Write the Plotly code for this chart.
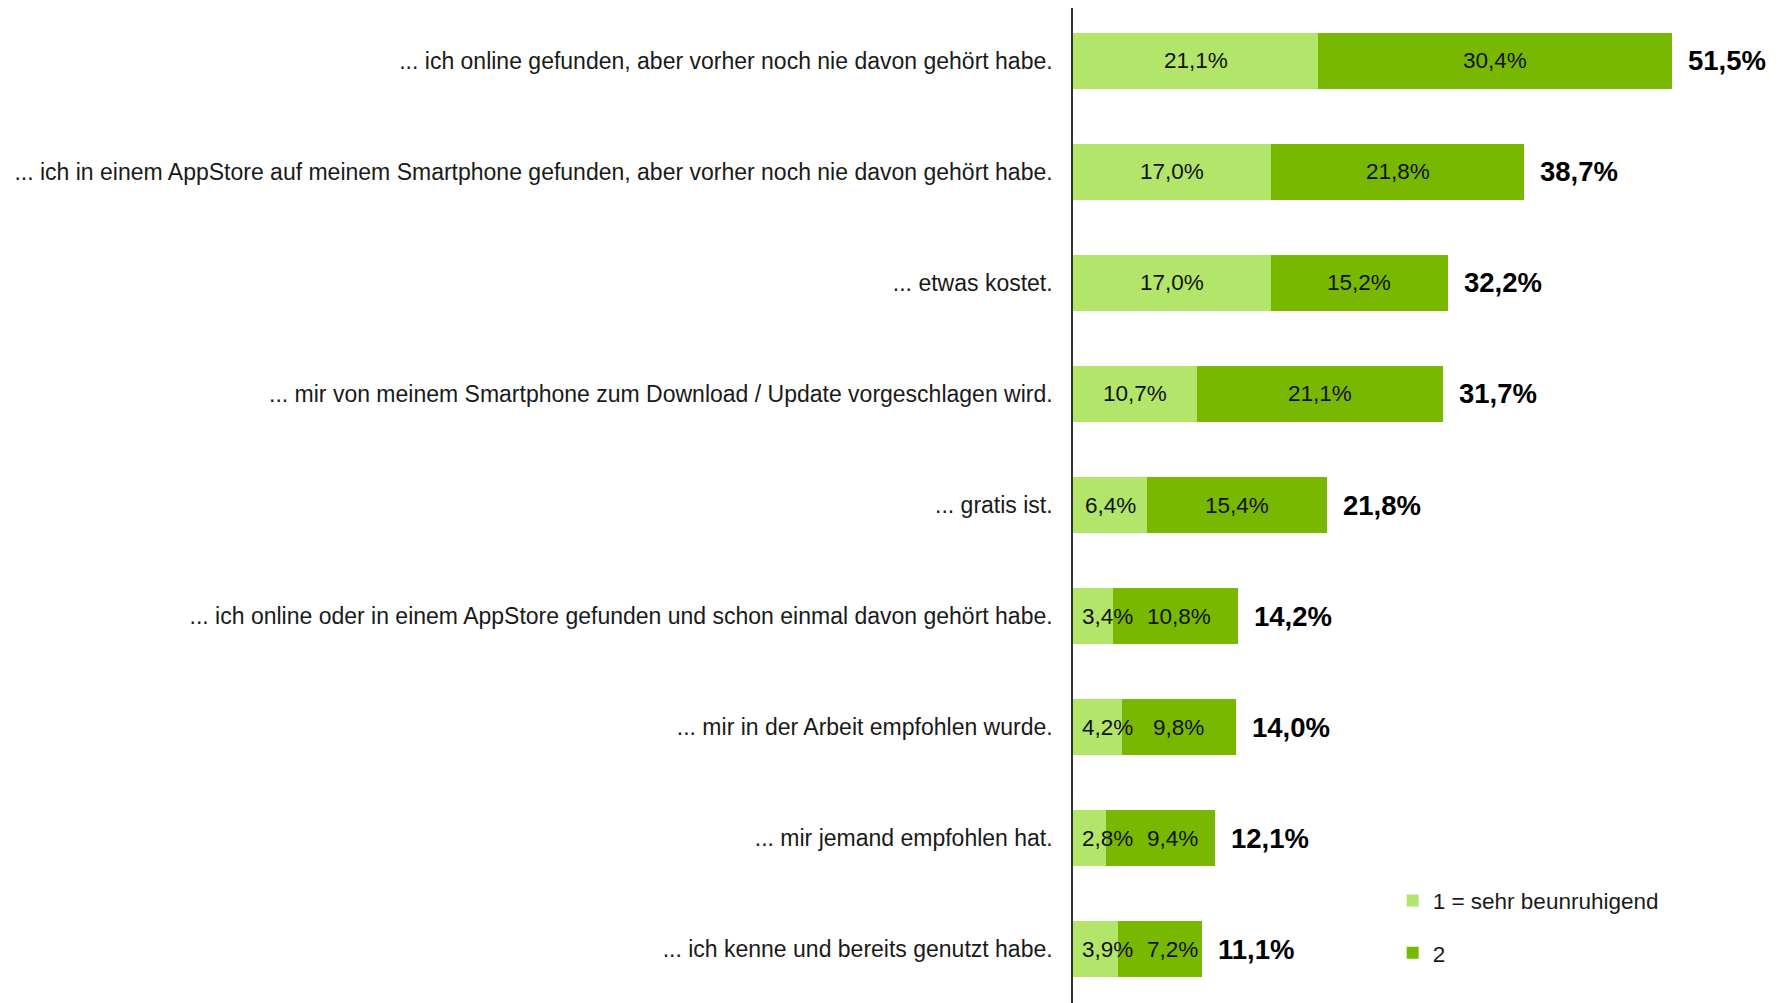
import plotly.graph_objects as go

categories = [
    "... ich online gefunden, aber vorher noch nie davon gehört habe.",
    "... ich in einem AppStore auf meinem Smartphone gefunden, aber vorher noch nie davon gehört habe.",
    "... etwas kostet.",
    "... mir von meinem Smartphone zum Download / Update vorgeschlagen wird.",
    "... gratis ist.",
    "... ich online oder in einem AppStore gefunden und schon einmal davon gehört habe.",
    "... mir in der Arbeit empfohlen wurde.",
    "... mir jemand empfohlen hat.",
    "... ich kenne und bereits genutzt habe.",
]
series1_name = "1 = sehr beunruhigend"
series2_name = "2"
series1 = [21.1, 17.0, 17.0, 10.7, 6.4, 3.4, 4.2, 2.8, 3.9]
series2 = [30.4, 21.8, 15.2, 21.1, 15.4, 10.8, 9.8, 9.4, 7.2]
totals = [51.5, 38.7, 32.2, 31.7, 21.8, 14.2, 14.0, 12.1, 11.1]

LIGHT = "#b2e56a"
DARK = "#79b800"
FONT = "Liberation Sans, Arial, sans-serif"
SEG_SIZE = 22.5
X_MAX = 60
PLOT_W = 1775 - 1065 - 12
PX_PER_UNIT = PLOT_W / X_MAX


def fmt(v):
    return f"{v:.1f}".replace(".", ",") + "%"


def text_width_px(s, size):
    w = {",": 0.278, "%": 0.889}
    return sum(w.get(c, 0.556) for c in s) * size


fig = go.Figure()
fig.add_trace(go.Bar(
    y=categories, x=series1, orientation="h", name=series1_name,
    marker=dict(color=LIGHT, line=dict(width=0)), legendgroup="a",
    textposition="none", hoverinfo="x+y",
))
fig.add_trace(go.Bar(
    y=categories, x=series2, orientation="h", name=series2_name,
    marker=dict(color=DARK, line=dict(width=0)), legendgroup="b",
    textposition="none", hoverinfo="x+y",
))

annotations = []
for cat, a, b, t in zip(categories, series1, series2, totals):
    seg_font = dict(family=FONT, size=SEG_SIZE, color="#111111")
    la, lb = fmt(a), fmt(b)
    wa, wb = text_width_px(la, SEG_SIZE), text_width_px(lb, SEG_SIZE)
    # light segment label: keep it inside the plot when the segment is narrow
    if a * PX_PER_UNIT < wa + 10:
        light_right = (7 + wa) / PX_PER_UNIT
        annotations.append(dict(x=0, y=cat, xref="x", yref="y", text=la,
                                showarrow=False, xanchor="left", yanchor="middle", xshift=7,
                                font=seg_font))
    else:
        light_right = a / 2 + wa / 2 / PX_PER_UNIT
        annotations.append(dict(x=a / 2, y=cat, xref="x", yref="y", text=la,
                                showarrow=False, xanchor="center", yanchor="middle",
                                font=seg_font))
    # dark segment label: centred, pushed right if it would collide
    xb = max(a + b / 2, light_right + (16 + wb / 2) / PX_PER_UNIT)
    annotations.append(dict(x=xb, y=cat, xref="x", yref="y", text=lb,
                            showarrow=False, xanchor="center", yanchor="middle",
                            font=seg_font))
    annotations.append(dict(x=a + b, y=cat, xref="x", yref="y", text="<b>" + fmt(t) + "</b>",
                            showarrow=False, xanchor="left", yanchor="middle", xshift=14,
                            font=dict(family=FONT, size=27.5, color="#000000")))

fig.update_layout(
    barmode="stack",
    bargap=0.5,
    width=1775, height=995,
    margin=dict(l=1065, r=12, t=0, b=0),
    plot_bgcolor="white", paper_bgcolor="white",
    font=dict(family=FONT, size=22, color="#1a1a1a"),
    xaxis=dict(range=[0, X_MAX], visible=False, fixedrange=True),
    yaxis=dict(range=[8.486, -0.477], showline=True, linecolor="#333333", linewidth=1.5,
               ticks="", ticklabelstandoff=14, showgrid=False,
               tickfont=dict(family=FONT, size=23, color="#1a1a1a")),
    legend=dict(x=0.458, y=0.0764, xanchor="left", yanchor="middle",
                traceorder="grouped", tracegroupgap=20, itemwidth=30,
                font=dict(family=FONT, size=22.5, color="#1a1a1a"),
                bgcolor="rgba(0,0,0,0)"),
    annotations=annotations,
)

fig.write_html("out.html")
